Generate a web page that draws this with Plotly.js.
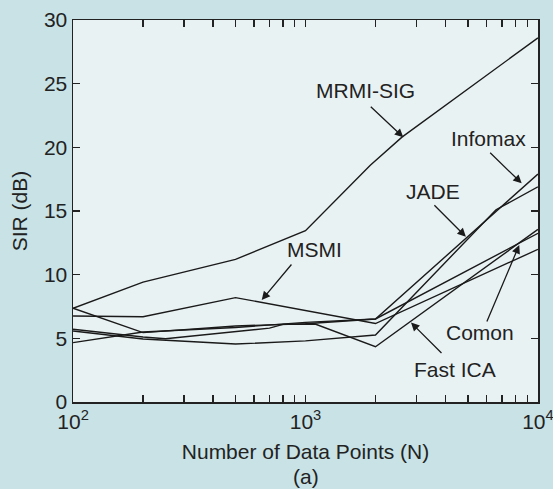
<!DOCTYPE html>
<html>
<head>
<meta charset="utf-8">
<script src="https://cdn.plot.ly/plotly-3.0.1.min.js"></script>
<style>
  html, body { margin: 0; padding: 0; background: #c8e2e6; }
  #chart { width: 553px; height: 489px; }
</style>
</head>
<body>
<div id="chart"></div>
<script>
// SIR versus number of data points for each separation method
const nMrmi = [100, 200, 500, 1000, 1900, 2600, 10000];
const sirMrmi = [7.36, 9.42, 11.2, 13.45, 18.6, 20.8, 28.6];

const nMsmi = [100, 200, 500, 2000, 10000];
const sirMsmi = [6.75, 6.7, 8.2, 6.16, 11.99];

const nInfomax = [100, 200, 500, 1000, 2000, 10000];
const sirInfomax = [7.36, 5.45, 5.97, 6.15, 6.52, 17.9];

const nJade = [100, 200, 500, 1000, 2000, 6600, 10000];
const sirJade = [5.58, 4.95, 4.55, 4.8, 5.26, 15.1, 16.9];

const nComon = [100, 200, 500, 1000, 2000, 10000];
const sirComon = [4.66, 5.5, 5.85, 6.25, 6.52, 13.25];

const nFastIca = [100, 200, 250, 500, 700, 800, 1100, 2000, 10000];
const sirFastIca = [5.71, 5.1, 4.97, 5.55, 5.8, 6.1, 6.12, 4.34, 13.56];

const majorTicks = [100, 1000, 10000];
const majorLabels = ['10<sup>2</sup>', '10<sup>3</sup>', '10<sup>4</sup>'];
const yTicks = [0, 5, 10, 15, 20, 25, 30];

// every integer multiple inside each decade gets a tick mark
const xTickVals = [];
const xTickText = [];
for (let d = 100; d < 10000; d *= 10) {
  for (let k = 1; k < 10; k++) {
    const v = d * k;
    xTickVals.push(v);
    const idx = majorTicks.indexOf(v);
    xTickText.push(idx >= 0 ? majorLabels[idx] : '');
  }
}
xTickVals.push(10000);
xTickText.push(majorLabels[2]);

const lineStyle = { color: '#1a1a1a', width: 1.4 };
const series = [
  [nMrmi, sirMrmi, 'MRMI-SIG'],
  [nMsmi, sirMsmi, 'MSMI'],
  [nInfomax, sirInfomax, 'Infomax'],
  [nJade, sirJade, 'JADE'],
  [nComon, sirComon, 'Comon'],
  [nFastIca, sirFastIca, 'Fast ICA']
];
const traces = series.map(([x, y, name]) => ({
  x: x, y: y, name: name, type: 'scatter', mode: 'lines',
  line: lineStyle, hoverinfo: 'skip', cliponaxis: true
}));

const labelFont = { family: 'Liberation Sans, Arial, sans-serif', size: 21, color: '#222' };

function label(text, lx, ly) {
  return { text: text, x: lx, y: ly, xref: 'x', yref: 'y', showarrow: false,
           font: labelFont, xanchor: 'center', yanchor: 'middle' };
}
function arrow(tx, ty, ax, ay) {
  return { text: '', x: tx, y: ty, xref: 'x', yref: 'y', showarrow: true,
           ax: ax, ay: ay, arrowhead: 2, arrowsize: 1.3, arrowwidth: 1.3,
           arrowcolor: '#1a1a1a', standoff: 0, startstandoff: 0 };
}

const annotations = [
  label('MRMI-SIG', 3.260, 24.5),  arrow(3.4206, 20.79, -34, -32),
  label('Infomax', 3.789, 20.73),  arrow(3.930, 17.17, -33, -32),
  label('JADE', 3.548, 16.57),     arrow(3.690, 12.98, -33, -33),
  label('MSMI', 3.039, 12.0),      arrow(2.8116, 8.01, 31, -37),
  label('Comon', 3.749, 5.46),     arrow(3.9196, 12.33, -33, 78),
  label('Fast ICA', 3.642, 2.59),  arrow(3.4538, 6.24, 32, 32),
  { text: '(a)', xref: 'paper', yref: 'paper', x: 0.5, y: 0, yanchor: 'middle',
    yshift: -74, showarrow: false, font: labelFont }
];

const layout = {
  width: 553, height: 489,
  margin: { l: 73, r: 15, t: 20, b: 87, pad: 0 },
  paper_bgcolor: '#c8e2e6',
  plot_bgcolor: '#e9f2f3',
  showlegend: false,
  font: labelFont,
  xaxis: {
    type: 'log', range: [1.9998, 4.0002],
    tickmode: 'array', tickvals: xTickVals, ticktext: xTickText,
    ticks: 'inside', ticklen: 7, tickwidth: 1.2, tickcolor: '#222',
    ticklabeloverflow: 'allow',
    showline: true, linecolor: '#222', linewidth: 1.5, mirror: 'ticks',
    showgrid: false, zeroline: false,
    tickfont: labelFont,
    title: { text: 'Number of Data Points (N)', font: labelFont, standoff: 12 }
  },
  yaxis: {
    range: [0, 30], tickmode: 'array', tickvals: yTicks,
    ticks: 'inside', ticklen: 7, tickwidth: 1.2, tickcolor: '#222',
    showline: true, linecolor: '#222', linewidth: 1.5, mirror: 'ticks',
    showgrid: false, zeroline: false,
    tickfont: labelFont,
    title: { text: 'SIR (dB)', font: labelFont, standoff: 10 }
  },
  annotations: annotations
};

Plotly.newPlot('chart', traces, layout, { staticPlot: true, displayModeBar: false });
</script>
</body>
</html>
